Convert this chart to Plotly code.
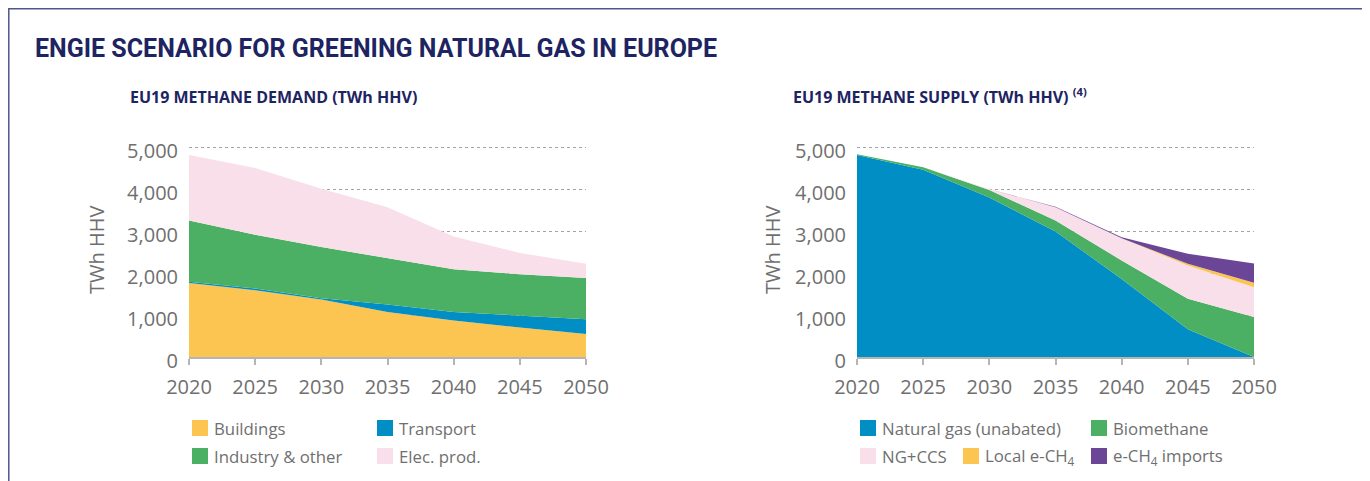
import plotly.graph_objects as go

years = [2020, 2025, 2030, 2035, 2040, 2045, 2050]

# Demand (TWh HHV)
demand_names = ["Buildings", "Transport", "Industry & other", "Elec. prod."]
buildings = [1760, 1590, 1370, 1070, 870, 700, 550]
transport = [30, 40, 30, 180, 200, 290, 350]
industry = [1460, 1280, 1220, 1110, 1020, 980, 980]
elec_prod = [1560, 1590, 1390, 1210, 780, 510, 340]

# Supply (TWh HHV)
supply_names = ["Natural gas (unabated)", "Biomethane", "NG+CCS", "Local e-CH<sub>4</sub>", "e-CH<sub>4</sub> imports"]
natural_gas = [4810, 4460, 3800, 2990, 1860, 660, 0]
biomethane = [20, 60, 180, 260, 440, 730, 950]
ng_ccs = [0, 0, 20, 320, 530, 790, 710]
local_ech4 = [0, 0, 0, 0, 0, 40, 110]
ech4_imports = [0, 0, 0, 10, 20, 240, 460]

y_ticks = [0, 1000, 2000, 3000, 4000, 5000]
y_tick_text = ["0", "1,000", "2,000", "3,000", "4,000", "5,000"]

YELLOW = "#fcc451"
BLUE = "#008ec4"
GREEN = "#4bb064"
PINK = "#f9dfe9"
PURPLE = "#6b4696"
NAVY = "#1d2461"
GREY = "#6f6f6f"

W, H = 1370, 481
OFF = 8  # page offset of the figure in the browser

fig = go.Figure()

def add_area(x, y, color, xa, ya, group):
    fig.add_trace(go.Scatter(
        x=x, y=y, mode="lines", stackgroup=group, line=dict(width=0, color=color),
        fillcolor=color, xaxis=xa, yaxis=ya, showlegend=False, hoverinfo="x+y"))

for vals, col in zip([buildings, transport, industry, elec_prod], [YELLOW, BLUE, GREEN, PINK]):
    add_area(years, vals, col, "x", "y", "demand")
for vals, col in zip([natural_gas, biomethane, ng_ccs, local_ech4, ech4_imports],
                     [BLUE, GREEN, PINK, YELLOW, PURPLE]):
    add_area(years, vals, col, "x2", "y2", "supply")

def px_x(p):
    return (p - OFF) / W

def px_y(p):
    return 1 - (p - OFF) / H

xdom1 = [px_x(189), px_x(586)]
xdom2 = [px_x(857), px_x(1254)]
ydom = [px_y(357), px_y(145)]

tickfont = dict(family="Open Sans, Lato, sans-serif", size=20, color=GREY)
xcommon = dict(range=[2020, 2050], tickvals=years, ticks="outside", ticklen=6, tickcolor="#b5b5b5",
               tickwidth=1.5, showline=True, linecolor="#b5b5b5", linewidth=1.5, showgrid=False,
               zeroline=False, tickfont=tickfont, ticklabelstandoff=5, fixedrange=True, automargin=False)
ycommon = dict(range=[0, 5050], tickvals=y_ticks, ticktext=y_tick_text, showgrid=True,
               gridcolor="#a3a3a3", griddash="dot", gridwidth=1, zeroline=False, showline=False,
               tickfont=tickfont, ticklabelstandoff=10, ticklabelshift=4, fixedrange=True, automargin=False)

fig.update_layout(
    width=W, height=H, margin=dict(l=0, r=0, t=0, b=0, pad=0, autoexpand=False),
    paper_bgcolor="white", plot_bgcolor="white",
    xaxis=dict(domain=xdom1, anchor="y", **xcommon),
    yaxis=dict(domain=ydom, anchor="x", **ycommon),
    xaxis2=dict(domain=xdom2, anchor="y2", **xcommon),
    yaxis2=dict(domain=ydom, anchor="x2", **ycommon),
)

shapes = []
annotations = []

# frame
shapes.append(dict(type="path", xref="paper", yref="paper",
                   path=f"M {px_x(8.8)},{px_y(520)} L {px_x(8.8)},{px_y(8.8)} L {px_x(1366)},{px_y(8.8)} L {px_x(1366)},{px_y(520)}",
                   line=dict(color="#4d5591", width=1.5)))

# titles
annotations.append(dict(text="<b>ENGIE SCENARIO FOR GREENING NATURAL GAS IN EUROPE</b>",
                        xref="paper", yref="paper", x=px_x(33), y=px_y(48), xanchor="left", yanchor="middle",
                        showarrow=False,
                        font=dict(family="Roboto, sans-serif", size=25, color=NAVY)))
annotations.append(dict(text="<b>EU19 METHANE DEMAND (TWh HHV)</b>",
                        xref="paper", yref="paper", x=px_x(128), y=px_y(97), xanchor="left", yanchor="middle",
                        showarrow=False, font=dict(family="Open Sans, sans-serif", size=16, color=NAVY)))
annotations.append(dict(text="<b>EU19 METHANE SUPPLY (TWh HHV)</b> <b><sup>(4)</sup></b>",
                        xref="paper", yref="paper", x=px_x(791), y=px_y(96), xanchor="left", yanchor="middle",
                        showarrow=False, font=dict(family="Open Sans, sans-serif", size=16, color=NAVY)))

# y axis titles
for xc in (96, 772):
    annotations.append(dict(text="TWh HHV", xref="paper", yref="paper", x=px_x(xc), y=px_y(250),
                            xanchor="center", yanchor="middle", textangle=-90, showarrow=False,
                            font=dict(family="Open Sans, Lato, sans-serif", size=20, color=GREY)))

# manual legends
legend_items = [
    ("Buildings", YELLOW, 192, 428), ("Transport", BLUE, 377, 428),
    ("Industry & other", GREEN, 192, 456), ("Elec. prod.", PINK, 377, 456),
    (supply_names[0], BLUE, 860, 428), (supply_names[1], GREEN, 1091, 428),
    (supply_names[2], PINK, 860, 456), (supply_names[3], YELLOW, 963, 456),
    (supply_names[4], PURPLE, 1091, 456),
]
for label, col, x0, yc in legend_items:
    shapes.append(dict(type="rect", xref="paper", yref="paper", x0=px_x(x0), x1=px_x(x0 + 16),
                       y0=px_y(yc - 8), y1=px_y(yc + 8), fillcolor=col, line=dict(width=0)))
    annotations.append(dict(text=label, xref="paper", yref="paper", x=px_x(x0 + 20), y=px_y(yc),
                            xanchor="left", yanchor="middle", showarrow=False,
                            font=dict(family="Open Sans, Lato, sans-serif", size=16.8, color=GREY)))

fig.update_layout(shapes=shapes, annotations=annotations)

fig.write_html("out.html")
